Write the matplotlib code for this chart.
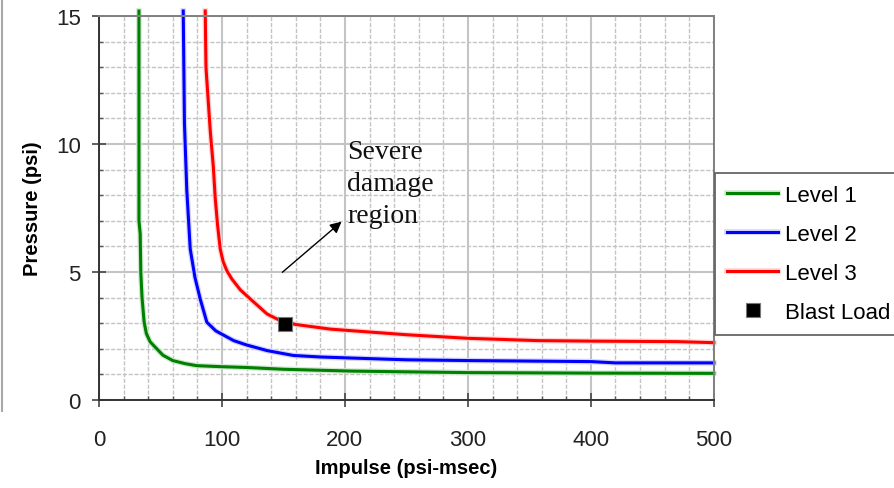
import matplotlib
matplotlib.use("Agg")
import matplotlib.pyplot as plt
import matplotlib.patheffects as pe
from matplotlib.lines import Line2D
from matplotlib.ticker import MultipleLocator

# pressure-impulse curves
level1_x = [32.5, 32.5, 33.5, 34.0, 35.0, 36.7, 38.5, 41.5, 45.6, 52.0, 60.0, 70.0, 79.6, 100.0, 120.0, 150.0, 204.6, 250.0, 300.0, 400.0, 500.0]
level1_p = [15.2, 7.0, 6.5, 5.0, 4.0, 3.05, 2.6, 2.28, 2.07, 1.75, 1.54, 1.42, 1.34, 1.3, 1.27, 1.2, 1.13, 1.1, 1.07, 1.05, 1.04]

level2_x = [68.5, 69.5, 71.4, 74.2, 78.0, 82.3, 87.7, 95.0, 109.5, 120.0, 136.7, 158.0, 180.0, 204.6, 250.0, 300.0, 400.0, 420.0, 500.0]
level2_p = [15.2, 10.8, 8.2, 5.9, 4.8, 3.95, 3.04, 2.7, 2.32, 2.15, 1.93, 1.74, 1.68, 1.64, 1.57, 1.54, 1.5, 1.45, 1.45]

level3_x = [86.4, 87.0, 87.7, 90.5, 93.0, 94.5, 96.5, 98.6, 101.0, 104.0, 108.0, 115.0, 123.0, 136.7, 147.5, 160.0, 188.0, 204.6, 250.0, 300.0, 356.7, 400.0, 470.0, 500.0]
level3_p = [15.2, 13.0, 12.5, 10.5, 9.1, 7.9, 6.8, 5.9, 5.4, 5.05, 4.73, 4.3, 3.95, 3.36, 3.1, 2.95, 2.77, 2.71, 2.55, 2.41, 2.32, 2.3, 2.28, 2.24]

blast_x = [151.6]
blast_p = [2.97]

x_ticks = [0, 100, 200, 300, 400, 500]
y_ticks = [0, 5, 10, 15]

plt.rcParams['font.family'] = ['Liberation Sans', 'DejaVu Sans']

fig = plt.figure(figsize=(8.95, 4.89), dpi=100)
ax = fig.add_axes([0.1106, 0.18, 0.687, 0.785])

halo = lambda c: [pe.Stroke(linewidth=4.0, foreground=c), pe.Normal()]

ax.plot(level1_x, level1_p, color='#008000', lw=2.2, label='Level 1', clip_on=False,
        path_effects=halo('#cfe6cf'))
ax.plot(level2_x, level2_p, color='#0000ff', lw=2.2, label='Level 2', clip_on=False,
        path_effects=halo('#d4d4ff'))
ax.plot(level3_x, level3_p, color='#ff0000', lw=2.2, label='Level 3', clip_on=False,
        path_effects=halo('#ffd4d4'))
ax.plot(blast_x, blast_p, 's', color='black', markersize=10.5, markeredgecolor='#777777',
        markeredgewidth=0.8, label='Blast Load', zorder=5)

ax.set_xlim(0, 500)
ax.set_ylim(0, 15)
ax.set_xticks(x_ticks)
ax.set_yticks(y_ticks)
ax.xaxis.set_minor_locator(MultipleLocator(20))
ax.yaxis.set_minor_locator(MultipleLocator(1))

# grid: solid major, dashed minor
ax.grid(which='major', color='#c4c4c4', lw=1.5, ls='-')
ax.grid(which='minor', color='#c4c4c4', lw=1.0, ls=(0, (3, 1.2)))
ax.set_axisbelow(True)

ax.tick_params(which='major', direction='inout', length=10, width=1.2, color='#444444',
               labelsize=16, labelcolor='#222222')
ax.tick_params(axis='x', which='major', pad=16)
ax.tick_params(axis='y', which='major', pad=8)
ax.tick_params(which='minor', direction='in', length=3, width=1.0, color='#555555')

for s in ['left', 'bottom']:
    ax.spines[s].set_color('#333333')
    ax.spines[s].set_linewidth(1.4)
for s in ['top', 'right']:
    ax.spines[s].set_color('#808080')
    ax.spines[s].set_linewidth(1.4)

ax.set_xlabel('Impulse (psi-msec)', fontsize=14.5, fontweight='bold', labelpad=6)
ax.set_ylabel('Pressure (psi)', fontsize=14.5, fontweight='bold', labelpad=10)

# annotation
ax.annotate('', xy=(199, 7.04), xytext=(147.4, 4.92),
            arrowprops=dict(arrowstyle='-|>', color='black', lw=1.0, mutation_scale=17))
ax.text(202, 10.2, 'Severe\ndamage\nregion', family='Liberation Serif', fontsize=20,
        ha='left', va='top', linespacing=1.36, color='#111111')

leg = fig.legend(loc='upper left', bbox_to_anchor=(715 / 895, 1 - 174 / 489),
                 fontsize=16, frameon=True, fancybox=False, framealpha=1,
                 edgecolor='#666666', handlelength=2.3, handletextpad=0.3,
                 labelspacing=0.8, borderpad=0.55, borderaxespad=0)
leg.get_frame().set_linewidth(1.3)

# thin border at the left edge of the picture
fig.add_artist(Line2D([0.002, 0.002], [1 - 412 / 489, 1], transform=fig.transFigure,
                      color='#a8a8a8', lw=1.5))

fig.savefig('out.png', dpi=100)
